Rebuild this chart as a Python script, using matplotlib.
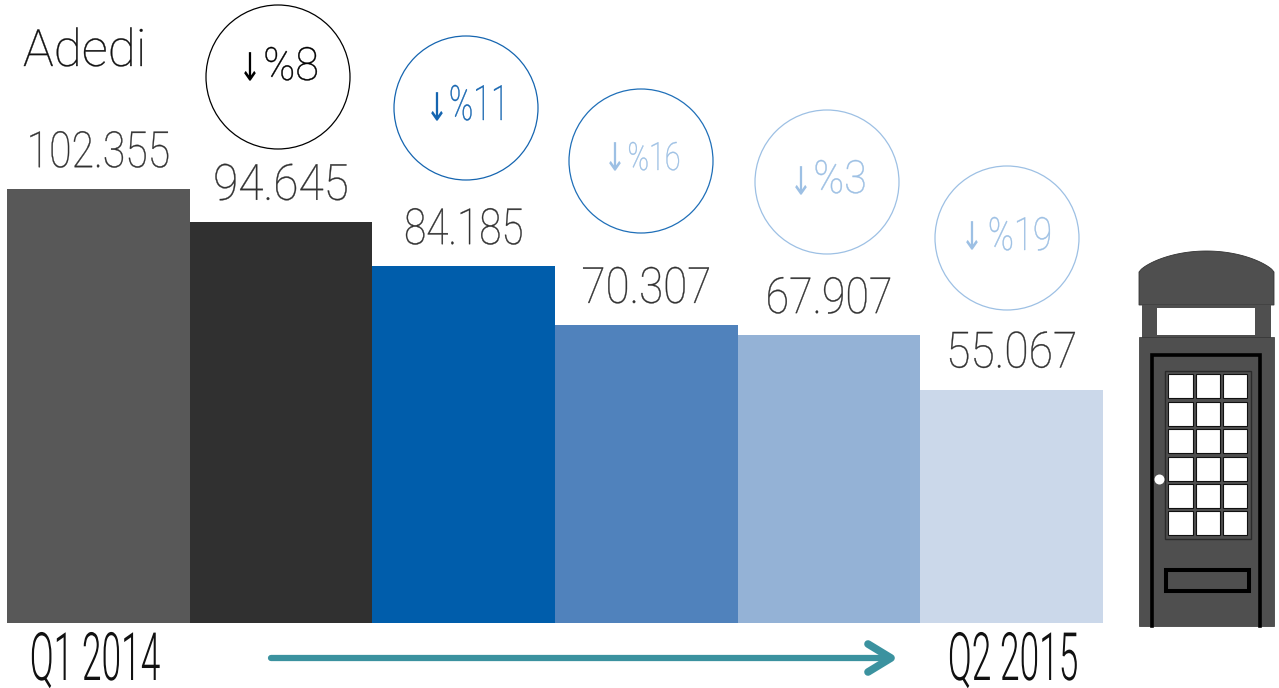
import matplotlib
matplotlib.use('Agg')
import matplotlib.pyplot as plt
from matplotlib import patheffects
from matplotlib.patches import Circle, Rectangle, Polygon
from matplotlib.transforms import Affine2D
import numpy as np

# values
quarters = ['Q1 2014', 'Q2 2015']
adedi = [102355, 94645, 84185, 70307, 67907, 55067]
value_labels = ['102.355', '94.645', '84.185', '70.307', '67.907', '55.067']
drops = ['%8', '%11', '%16', '%3', '%19']

bar_colors = ['#585858', '#303030', '#005dab', '#5082bc', '#94b2d6', '#cbd8ea']
ring_colors = ['#000000', '#1565b0', '#1f6fb8', '#9dc0e4', '#9dc0e4']
drop_colors = ['#000000', '#1565b0', '#9dc0e4', '#9dc0e4', '#9dc0e4']
drop_sizes = [33, 35, 28, 33, 33]
drop_squeeze = [0.94, 0.67, 0.74, 0.9, 0.76]
value_squeeze = [0.82, 0.92, 0.81, 0.88, 0.86, 0.89]
# circle centres in pixels, text offsets from them
circle_x = [278, 466, 641, 827, 1007]
circle_y = [77, 108, 161, 182, 238]
base_off = [3, 12, 9, 11, 12]
arrow_dx = [-28, -29, -26, -26, -35]
arrow_dy = [-7, 2, -1, 2, 1]

W, H = 1279, 688
fig = plt.figure(figsize=(W / 100, H / 100), dpi=100, facecolor='white')

LIGHT = ['Roboto', 'DejaVu Sans']
THIN = 100


class Squeeze(patheffects.AbstractPathEffect):
    # squash text sideways about a centre, there is no condensed font
    def __init__(self, cx, sx, lw=0):
        self.cx = cx
        self.sx = sx
        self.lw = lw

    def draw_path(self, renderer, gc, tpath, affine, rgbFace=None):
        a = affine + Affine2D().translate(-self.cx, 0).scale(self.sx, 1).translate(self.cx, 0)
        gc0 = renderer.new_gc()
        gc0.copy_properties(gc)
        gc0.set_linewidth(self.lw)
        gc0.set_foreground(rgbFace[:3] if self.lw else 'none')
        renderer.draw_path(gc0, tpath, a, rgbFace)
        gc0.restore()


# bars, baseline at y=623, x from 7 to 1103
ax = fig.add_axes([7 / W, (H - 623) / H, 1096 / W, 623 / H])
x = np.arange(len(adedi))
ax.bar(x, adedi, width=1.0, color=bar_colors, linewidth=0)
ax.set_xlim(-0.5, 5.5)
ax.set_ylim(0, 102355 * 623 / 433.6)
ax.axis('off')
for i, v in enumerate(adedi):
    t = ax.annotate(value_labels[i], (i, v), xytext=(0, 16), textcoords='offset points',
                    ha='center', va='baseline', fontsize=36, color='#303030',
                    family=LIGHT, weight=THIN)
    t.set_path_effects([Squeeze(ax.transData.transform((i, 0))[0], value_squeeze[i], 0.25)])

# overlay in pixel coords
ov = fig.add_axes([0, 0, 1, 1], facecolor='none')
ov.set_xlim(0, W)
ov.set_ylim(H, 0)
ov.axis('off')

t = ov.text(23, 66, 'Adedi', fontsize=37, color='#111111', family=LIGHT, weight=THIN)
t.set_path_effects([Squeeze(23, 1.0, 0.25)])

for i, d in enumerate(drops):
    ov.add_patch(Circle((circle_x[i], circle_y[i]), 72, fill=False, ec=ring_colors[i], lw=0.9))
    cx = circle_x[i] + 13
    t = ov.text(cx, circle_y[i] + base_off[i], d, fontsize=drop_sizes[i], color=drop_colors[i],
                ha='center', va='baseline', family=LIGHT, weight=THIN)
    t.set_path_effects([Squeeze(cx, drop_squeeze[i], 0.3)])
    ax_ = circle_x[i] + arrow_dx[i]
    t = ov.text(ax_, circle_y[i] + arrow_dy[i], '↓', fontsize=28, color=drop_colors[i],
                ha='center', va='center', family=LIGHT)
    t.set_path_effects([Squeeze(ax_, 0.7)])

# arrow
ov.plot([271, 888], [658, 658], color='#3b929f', lw=4.5, solid_capstyle='round')
ov.plot([868, 891, 868], [644, 658, 672], color='#3b929f', lw=5.5,
        solid_capstyle='round', solid_joinstyle='round')

# quarter labels
for cx, name in zip([95, 1013], quarters):
    t = ov.text(cx, 680, name, fontsize=48, color='#111111', ha='center', va='baseline',
                family=LIGHT, weight=300)
    t.set_path_effects([Squeeze(cx, 0.53)])

# phone box
BOX = '#4f4f4f'
rx = np.linspace(1274, 1139, 60)
ry = 272 - 21 * np.clip(1 - ((rx - 1206.5) / 67.5) ** 2, 0, 1) ** 0.75
roof = np.column_stack([np.r_[rx, 1139, 1274], np.r_[ry, 305, 305]])
ov.add_patch(Polygon(roof, closed=True, fc=BOX, ec='#333333', lw=0.6))
ov.add_patch(Rectangle((1142, 305), 129, 33, fc=BOX, ec='none'))
ov.add_patch(Rectangle((1157, 308), 98, 27, fc='white', ec='none'))
ov.add_patch(Rectangle((1139, 337), 135, 289, fc=BOX, ec='#333333', lw=0.5))
# door frame
ov.plot([1152, 1152, 1260, 1260], [626, 355, 355, 626], color='black', lw=2.6,
        solid_joinstyle='miter')
# window
ov.add_patch(Rectangle((1165, 371), 86, 168, fc='#4f4f4f', ec='#2a2a2a', lw=1))
for r in range(6):
    for c in range(3):
        ov.add_patch(Rectangle((1168.3 + c * 27.2, 374.3 + r * 27.4), 24.4, 24,
                               fc='white', ec='#111111', lw=0.8))
# letter slot
ov.add_patch(Rectangle((1166, 570), 83, 21, fc=BOX, ec='black', lw=2.9))
ov.add_patch(Circle((1159.5, 479.5), 5, fc='white', ec='none'))

fig.savefig('out.png', dpi=100)
